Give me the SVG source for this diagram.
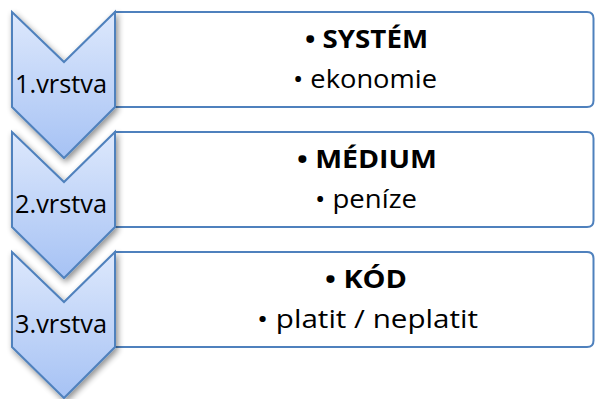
<svg xmlns="http://www.w3.org/2000/svg" width="595" height="399" viewBox="0 0 595 399">
  <defs>
    <linearGradient id="chevFill" x1="0" y1="0" x2="0" y2="1">
      <stop offset="0" stop-color="#dde8fc"/>
      <stop offset="1" stop-color="#a6c2f4"/>
    </linearGradient>
    <filter id="shadow" x="-20%" y="-20%" width="150%" height="150%">
      <feGaussianBlur in="SourceAlpha" stdDeviation="3"/>
      <feOffset dx="2" dy="3" result="b"/>
      <feComponentTransfer><feFuncA type="linear" slope="0.45"/></feComponentTransfer>
      <feMerge><feMergeNode/><feMergeNode in="SourceGraphic"/></feMerge>
    </filter>
    <path id="chev" d="M12,12 L64,62 L115,12 L115,107 L64,158 L12,107 Z"/>
    <path id="box" d="M115,12 H587 Q593.5,12 593.5,18.5 V100.5 Q593.5,107 587,107 H115 Z"/>
  </defs>
  <style>
    .box { fill: #ffffff; stroke: #4f81bd; stroke-width: 2; }
    .chev { fill: url(#chevFill); stroke: #4f81bd; stroke-width: 2; stroke-linejoin: miter; filter: url(#shadow); }
    text { font-family: "Open Sans", "Liberation Sans", sans-serif; font-size: 25.5px; fill: #000000; }
    .b { font-weight: bold; }
  </style>

  <g id="layer1">
    <use href="#box" class="box"/>
    <use href="#chev" class="chev"/>
    <text x="15" y="92.5" textLength="92" lengthAdjust="spacingAndGlyphs">1.vrstva</text>
    <text class="b" x="305" y="47.5" textLength="123" lengthAdjust="spacingAndGlyphs">• SYSTÉM</text>
    <text x="293" y="87.5" textLength="144" lengthAdjust="spacingAndGlyphs">• ekonomie</text>
  </g>

  <g id="layer2" transform="translate(0,120)">
    <use href="#box" class="box"/>
    <use href="#chev" class="chev"/>
    <text x="15" y="92.5" textLength="92" lengthAdjust="spacingAndGlyphs">2.vrstva</text>
    <text class="b" x="297" y="47.5" textLength="140" lengthAdjust="spacingAndGlyphs">• MÉDIUM</text>
    <text x="315" y="87.5" textLength="102" lengthAdjust="spacingAndGlyphs">• peníze</text>
  </g>

  <g id="layer3" transform="translate(0,240)">
    <use href="#box" class="box"/>
    <use href="#chev" class="chev"/>
    <text x="15" y="92.5" textLength="92" lengthAdjust="spacingAndGlyphs">3.vrstva</text>
    <text class="b" x="325" y="47.5" textLength="82" lengthAdjust="spacingAndGlyphs">• KÓD</text>
    <text x="257" y="88" textLength="221" lengthAdjust="spacingAndGlyphs">• platit / neplatit</text>
  </g>
</svg>
